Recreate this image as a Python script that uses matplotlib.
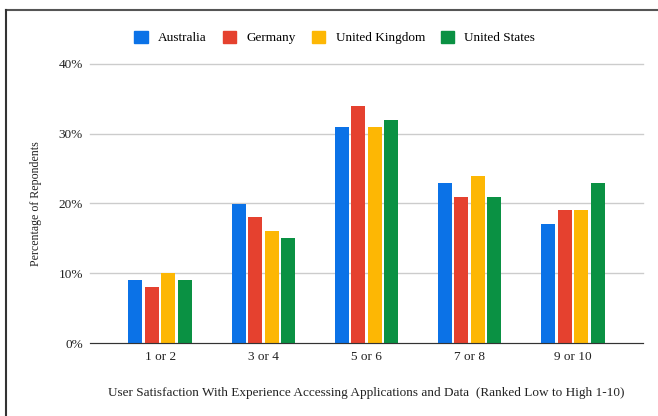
import matplotlib.pyplot as plt
import matplotlib.ticker as mticker
from matplotlib.lines import Line2D
import numpy as np

plt.rcParams['font.family'] = ['Liberation Serif', 'DejaVu Serif']

groups = ['1 or 2', '3 or 4', '5 or 6', '7 or 8', '9 or 10']
countries = ['Australia', 'Germany', 'United Kingdom', 'United States']
australia = [9, 20, 31, 23, 17]
germany = [8, 18, 34, 21, 19]
uk = [10, 16, 31, 24, 19]
us = [9, 15, 32, 21, 23]
colors = ['#0b72e7', '#e5412f', '#fdb704', '#0a9143']

fig = plt.figure(figsize=(6.58, 4.16), dpi=100)
ax = fig.add_axes([90/658, 1 - 343/416, 553/658, (343 - 64)/416])

x = np.arange(len(groups))
step = 0.16
width = 0.135
for i, (vals, name, c) in enumerate(zip([australia, germany, uk, us], countries, colors)):
    ax.bar(x + (i - 1.5) * step, np.array(vals) / 100, width, color=c, label=name, zorder=3)

ax.set_xlim(-0.68, 4.68)
ax.set_ylim(0, 0.4)
ax.yaxis.set_major_locator(mticker.MultipleLocator(0.1))
ax.yaxis.set_major_formatter(mticker.PercentFormatter(1.0, decimals=0))
ax.grid(axis='y', color='#cccccc', linewidth=1, zorder=0)
for g in ax.get_ygridlines():
    g.set_clip_on(False)
for s in ['top', 'right', 'left']:
    ax.spines[s].set_visible(False)
ax.spines['bottom'].set_color('#333333')
ax.spines['bottom'].set_zorder(4)
ax.set_xticks(x)
ax.set_xticklabels(groups)
ax.tick_params(axis='both', length=0, labelsize=9.5, colors='#222222')
ax.tick_params(axis='y', pad=5)
ax.tick_params(axis='x', pad=6)

ax.set_ylabel('Percentage of Repondents', fontsize=8.6, color='#222222', labelpad=12)
ax.set_xlabel('User Satisfaction With Experience Accessing Applications and Data  (Ranked Low to High 1-10)',
              fontsize=9.5, color='#222222', labelpad=17)

handles = [plt.Rectangle((0, 0), 1, 1, color=c) for c in colors]
fig.legend(handles, countries, loc='center', bbox_to_anchor=(0.509, 1 - 37.5/416), ncol=4,
           frameon=False, fontsize=9.5, handlelength=1.0, handleheight=1.0,
           columnspacing=1.2, handletextpad=0.8)

# frame lines along top and left edge
fig.add_artist(Line2D([6/658, 1], [1 - 9.5/416, 1 - 9.5/416], color='#555555', linewidth=1.5))
fig.add_artist(Line2D([6/658, 6/658], [0, 1 - 9.5/416], color='#333333', linewidth=1.5))

fig.savefig('out.png', dpi=100)
